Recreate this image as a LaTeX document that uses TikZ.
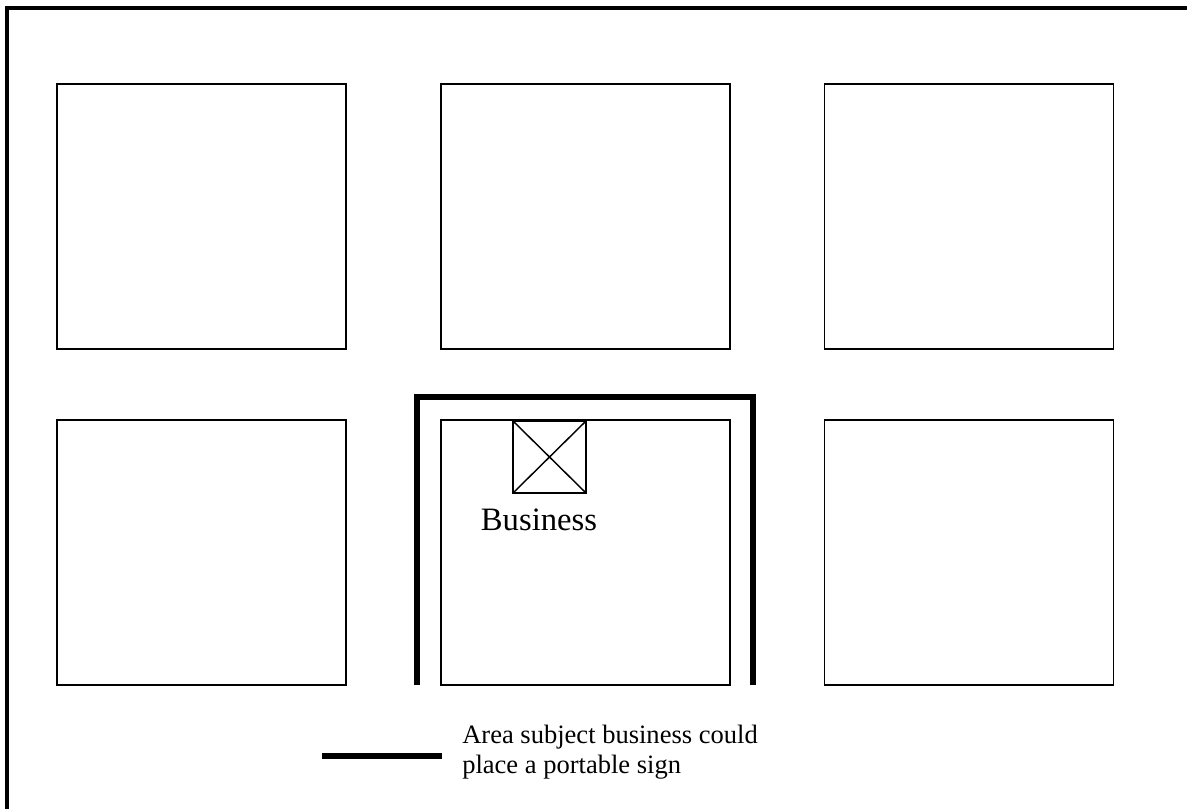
\documentclass[tikz,border=0pt]{standalone}
\usepackage{fontspec}
\setmainfont{Liberation Serif}
\begin{document}
\begin{tikzpicture}[x=0.75pt,y=-0.75pt,
  lot/.style={draw,line width=1.1pt,minimum width=289*0.75pt,minimum height=265*0.75pt,inner sep=0pt,outer sep=0pt},
  signbox/.style={draw,rectangle,line width=1.1pt,minimum width=73*0.75pt,minimum height=72*0.75pt,inner sep=0pt,outer sep=0pt},
  thin/.style={line width=1.1pt},
  frame/.style={line width=3pt},
  area/.style={line width=3.8pt,line join=miter},
  legendtext/.style={font=\fontsize{19.9}{22.5}\selectfont,inner sep=0pt,anchor=base west},
  bizlabel/.style={font=\fontsize{24.5}{28}\selectfont,inner sep=0pt,anchor=base}]
\useasboundingbox (0,0) rectangle (1187,809);
% outer frame (top and left edges)
\coordinate (fTR) at (1187,8);
\coordinate (fTL) at (7,8);
\coordinate (fBL) at (7,809);
\draw[frame] (fTR) -- (fTL) -- (fBL);
% lots
\node[lot] (l1) at (201.5,216.5) {};
\node[lot] (l2) at (585.5,216.5) {};
\node[lot] (l3) at (969,216.5) {};
\node[lot] (l4) at (201.5,552.5) {};
\node[lot] (l5) at (585.5,552.5) {};
\node[lot] (l6) at (969,552.5) {};
% sign area
\coordinate (a1) at (417,685);
\coordinate (a2) at (417,397);
\coordinate (a3) at (753,397);
\coordinate (a4) at (753,685);
\draw[area] (a1) -- (a2) -- (a3) -- (a4);
% business
\node[signbox] (sign) at (549.5,457) {};
\draw[thin] (sign.north west) -- (sign.south east);
\draw[thin] (sign.north east) -- (sign.south west);
\node[bizlabel] (biz) at (539,530) {Business};
% legend
\coordinate (k1) at (322,756);
\coordinate (k2) at (442,756);
\draw[line width=4.5pt] (k1) -- (k2);
\node[legendtext] (t1) at (462,743) {Area subject business could};
\node[legendtext] (t2) at (462,773) {place a portable sign};
\end{tikzpicture}
\end{document}
